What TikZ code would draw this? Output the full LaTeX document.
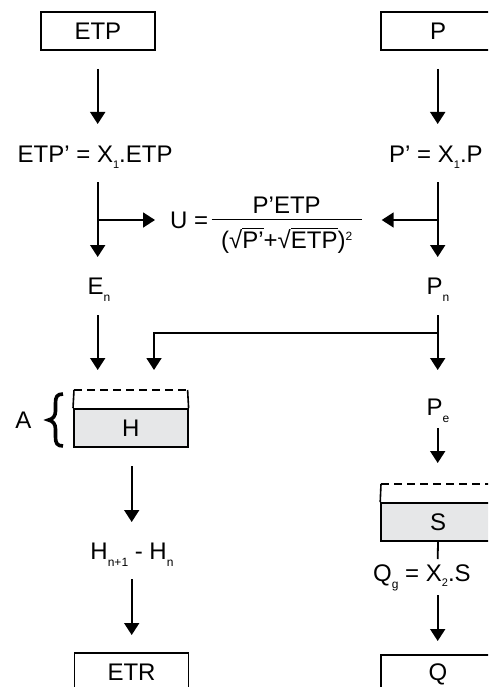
\documentclass[tikz,border=0pt]{standalone}
\usepackage{fontspec}
\setmainfont{Liberation Sans}
\usetikzlibrary{arrows.meta}
\newcommand\lsub[1]{\raisebox{-7.4pt}{\fontsize{12}{12}\selectfont #1}}
\newcommand\xsub[1]{\raisebox{-5.5pt}{\fontsize{11}{11}\selectfont #1}}
\newcommand\ovl[1]{\setbox0\hbox{#1}\rlap{\raisebox{19.6pt}{\rule{\wd0}{1.2pt}}}\box0}
\definecolor{tank}{HTML}{E6E7E8}
\begin{document}
\begin{tikzpicture}[x=1pt,y=-1pt,
  arr/.style={line width=1.8pt,-{Triangle[length=12pt,width=15pt]}},
  plain/.style={line width=1.8pt},
  box/.style={draw,line width=1.6pt,minimum width=114pt,minimum height=38pt,inner sep=0pt,font=\fontsize{24}{28}\selectfont},
  tankbox/.style={box,fill=tank},
  txt/.style={inner sep=0pt,font=\fontsize{24}{28}\selectfont},
  tankline/.style={line width=1.6pt},
  dashline/.style={line width=1.6pt,dash pattern=on 8pt off 5pt}]
\useasboundingbox (0,0) rectangle (488,687);
\clip (0,0) rectangle (488,687);
% boxes
\node[box] (etp) at (97.9,30.9) {ETP};
\node[box] (p) at (438,30.9) {P};
\node[box] (etr) at (131.5,672) {ETR};
\node[box] (q) at (438,674) {Q};
% texts
\node[txt,anchor=base west] (etpx) at (17.5,163) {ETP’ = X\xsub{1}.ETP};
\node[txt,anchor=base west] (px) at (389,163) {P’ = X\xsub{1}.P};
\node[txt,anchor=base west] (ueq) at (170,228.5) {U =};
\node[txt,anchor=base] (num) at (286.7,213.3) {P’ETP};
\node[txt,anchor=base] (den) at (286.7,248.3) {(√\ovl{P’}+√\ovl{ETP})\raisebox{8pt}{\fontsize{12}{12}\selectfont 2}};
\coordinate (barl) at (211.7,219.5);
\coordinate (barr) at (361.7,219.5);
\draw[tankline] (barl) -- (barr);
\node[txt,anchor=base] (en) at (99,294) {E\lsub{n}};
\node[txt,anchor=base] (pn) at (438,294) {P\lsub{n}};
\node[txt,anchor=base] (pe) at (438,415) {P\lsub{e}};
\node[txt,anchor=base] (dh) at (132,559.5) {H\lsub{n+1} - H\lsub{n}};
\node[txt,anchor=base west] (qg) at (373,581) {Q\lsub{g} = X\xsub{2}.S};
% tanks
\node[tankbox] (htank) at (130.8,428) {H};
\coordinate (htl) at (74,390);
\coordinate (htr) at (187.6,390);
\draw[tankline] (htank.north west) -- (htl);
\draw[tankline] (htank.north east) -- (htr);
\draw[dashline] (htl) -- (htr);
\node[tankbox] (stank) at (438,522) {S};
\coordinate (stl) at (381,484);
\coordinate (str) at (495,484);
\draw[tankline] (stank.north west) -- (stl);
\draw[tankline] (stank.north east) -- (str);
\draw[dashline] (stl) -- (str);
% brace and A
\node[txt] (a) at (23.5,420) {A};
\draw[line width=3.6pt] (63,394) .. controls (57,394) and (55.5,397) .. (55.5,403) -- (55.5,411) .. controls (55.5,416) and (53,419) .. (48.5,420) .. controls (53,421) and (55.5,424) .. (55.5,429) -- (55.5,437) .. controls (55.5,443) and (57,446) .. (63,446);
% connector coordinates
\coordinate (c1a) at (97.7,69);   \coordinate (c1b) at (97.7,124);
\coordinate (c2a) at (437.7,69);  \coordinate (c2b) at (437.7,124);
\coordinate (c3a) at (97.7,182);  \coordinate (c3b) at (97.7,257);
\coordinate (c4a) at (437.7,182); \coordinate (c4b) at (437.7,257);
\coordinate (j1) at (97.7,220);   \coordinate (u1) at (155,220);
\coordinate (j2) at (437.7,220);  \coordinate (u2) at (381.7,220);
\coordinate (c5a) at (97.7,315);  \coordinate (c5b) at (97.7,370);
\coordinate (c6a) at (437.7,315); \coordinate (c6b) at (437.7,370);
\coordinate (j3) at (437.7,333);  \coordinate (k3) at (154,333); \coordinate (k3b) at (154,370);
\coordinate (c7a) at (437.7,428); \coordinate (c7b) at (437.7,463);
\coordinate (c8a) at (131.7,466); \coordinate (c8b) at (131.7,522);
\coordinate (c9a) at (131.7,579); \coordinate (c9b) at (131.7,635);
\coordinate (c10b) at (437.7,559);
\coordinate (c11a) at (437.7,595); \coordinate (c11b) at (437.7,641);
% connectors
\draw[arr] (c1a) -- (c1b);
\draw[arr] (c2a) -- (c2b);
\draw[arr] (c3a) -- (c3b);
\draw[arr] (c4a) -- (c4b);
\draw[arr] (j1) -- (u1);
\draw[arr] (j2) -- (u2);
\draw[arr] (c5a) -- (c5b);
\draw[arr] (c6a) -- (c6b);
\draw[arr] (j3) -- (k3) -- (k3b);
\draw[arr] (c7a) -- (c7b);
\draw[arr] (c8a) -- (c8b);
\draw[arr] (c9a) -- (c9b);
\draw[plain] (stank.south) -- (c10b);
\draw[arr] (c11a) -- (c11b);
\end{tikzpicture}
\end{document}
